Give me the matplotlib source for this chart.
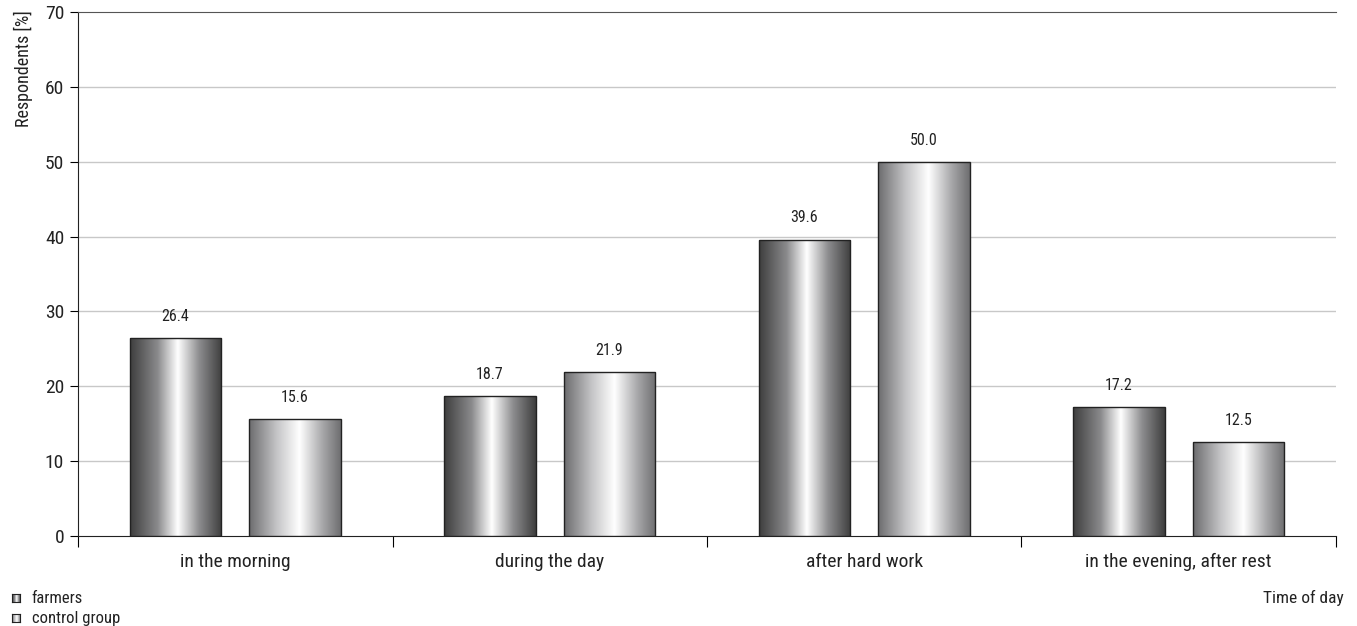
import numpy as np
import matplotlib
matplotlib.use("Agg")
import matplotlib.pyplot as plt
from matplotlib.colors import LinearSegmentedColormap
from matplotlib.patches import Rectangle

# ── Data ──────────────────────────────────────────────────────────────────────
categories = ["in the morning", "during the day", "after hard work",
              "in the evening, after rest"]
farmers = [26.4, 18.7, 39.6, 17.2]
control = [15.6, 21.9, 50.0, 12.5]
series_names = ["farmers", "control group"]
y_ticks = [0, 10, 20, 30, 40, 50, 60, 70]

plt.rcParams["font.family"] = ["Roboto Condensed", "DejaVu Sans"]
plt.rcParams["font.size"] = 12

# cylinder-like shading for the two series
cmap_dark = LinearSegmentedColormap.from_list(
    "dark", [(0.0, "#3e3e3e"), (0.3, "#8a8a8c"), (0.52, "#ffffff"),
             (0.75, "#8e8e90"), (1.0, "#3e3e3e")])
cmap_light = LinearSegmentedColormap.from_list(
    "light", [(0.0, "#6c6c6e"), (0.3, "#c4c4c6"), (0.55, "#ffffff"),
              (0.8, "#a8a8aa"), (1.0, "#6e6e70")])

fig = plt.figure(figsize=(13.57, 6.26), dpi=100)
ax = fig.add_axes([0.0575, 0.1438, 0.9270, 0.8370])

x = np.arange(len(categories))
width = 0.29
offset = 0.19
grad = np.linspace(0, 1, 256).reshape(1, -1)


def shaded_bar(ax, xc, h, cmap):
    x0 = xc - width / 2
    im = ax.imshow(grad, cmap=cmap, aspect="auto", extent=(x0, x0 + width, 0, h),
                   zorder=3, interpolation="bilinear")
    rect = Rectangle((x0, 0), width, h, facecolor="none",
                     edgecolor="#222222", lw=1.0, zorder=4)
    ax.add_patch(rect)
    im.set_clip_path(rect)
    ax.text(xc, h + 1.9, f"{h:.1f}", ha="center", va="bottom", fontsize=11.5,
            color="#222222")


for i in x:
    shaded_bar(ax, i - offset, farmers[i], cmap_dark)
    shaded_bar(ax, i + offset, control[i], cmap_light)

ax.set_xlim(-0.5, len(categories) - 0.5)
ax.set_ylim(0, 70)
ax.set_yticks(y_ticks)
ax.tick_params(axis="y", length=6, width=0.8, labelsize=14, pad=4,
               labelcolor="#222222")
for t in y_ticks[1:-1]:
    ax.axhline(t, color="#c8c8c8", lw=1.0, zorder=1)

# category boundaries as bottom ticks, names centred between them
ax.set_xticks(np.arange(-0.5, len(categories)))
ax.set_xticklabels([])
ax.tick_params(axis="x", length=8, width=0.8)
for i, c in enumerate(categories):
    ax.text(i, -3.5, c, ha="center", va="center", fontsize=14, color="#222222")

ax.spines["right"].set_visible(False)
ax.spines["top"].set_color("#555555")
ax.spines["left"].set_color("#222222")
ax.spines["bottom"].set_color("#222222")

fig.text(0.010, 0.984, "Respondents [%]", rotation=90, ha="left", va="top",
         fontsize=13, color="#222222")
fig.text(0.990, 0.045, "Time of day", ha="right", va="center", fontsize=12.5,
         color="#222222")

# legend in the lower left corner
for k, (name, cm) in enumerate(zip(series_names, [cmap_dark, cmap_light])):
    yy = 0.044 - k * 0.032
    lax = fig.add_axes([0.0088, yy - 0.0064, 0.0059, 0.0128])
    lax.imshow(grad, cmap=cm, aspect="auto")
    lax.set_xticks([])
    lax.set_yticks([])
    for sp in lax.spines.values():
        sp.set_color("#222222")
        sp.set_linewidth(0.8)
    fig.text(0.0235, yy, name, ha="left", va="center", fontsize=12, color="#222222")

fig.savefig("out.png", dpi=100)
